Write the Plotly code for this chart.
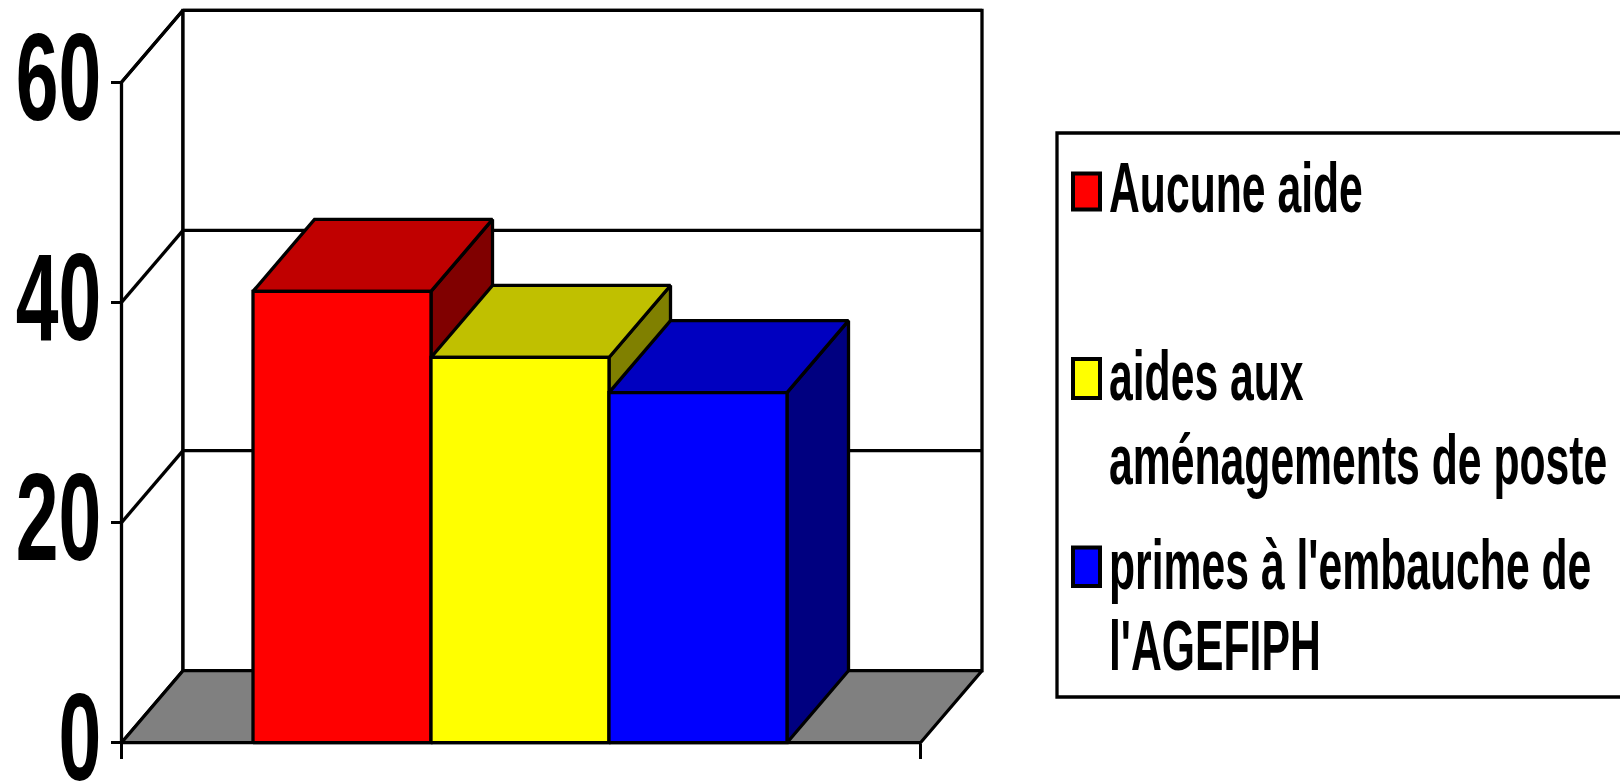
import plotly.graph_objects as go

# --- data ---
categories = ["Aucune aide", "aides aux aménagements de poste", "primes à l'embauche de l'AGEFIPH"]
values = [41, 35, 31.8]
y_ticks = [0, 20, 40, 60]
front_colors = ["#FF0000", "#FFFF00", "#0000FF"]
top_colors = ["#C00000", "#C0C000", "#0000C0"]
side_colors = ["#800000", "#808000", "#000080"]
legend_lines = ["Aucune aide", "aides aux", "aménagements de poste", "primes à l'embauche de", "l'AGEFIPH"]
legend_baselines = [213, 401, 485, 590, 671]
swatch_boxes = [(173.5, 209.5), (359, 398), (547.6, 586)]

# --- layout constants (pixels of the 1620x782 page) ---
W, H = 1620, 782
PX_X0, PX_Y0 = 121.5, 742.7      # front-left corner of the floor
PX_PER_BAR = 178.0
PX_PER_UNIT = 11.007
PX_FRONT_R = 920.5
PX_BAR_L = 253.0
PX_DX, PX_DY = 61.5, 72.0

x_axis_left = -0.5 - (PX_BAR_L - PX_X0) / PX_PER_BAR   # x value of the front-left corner
x_axis_right = x_axis_left + (PX_FRONT_R - PX_X0) / PX_PER_BAR
dx = PX_DX / PX_PER_BAR
dy = PX_DY / PX_PER_UNIT
x_range = [x_axis_left - PX_X0 / PX_PER_BAR, x_axis_left + (W - PX_X0) / PX_PER_BAR]
y_range = [(PX_Y0 - H) / PX_PER_UNIT, PX_Y0 / PX_PER_UNIT]
ymax = max(y_ticks)
LW = 3.3


def poly(xs, ys, fill, name):
    return go.Scatter(x=xs, y=ys, mode="lines", fill="toself", fillcolor=fill,
                      line=dict(color="black", width=LW), name=name,
                      hoverinfo="skip", showlegend=False)


def segs(pairs, name):
    xs, ys = [], []
    for (a, b) in pairs:
        xs += [a[0], b[0], None]
        ys += [a[1], b[1], None]
    return go.Scatter(x=xs, y=ys, mode="lines", line=dict(color="black", width=LW),
                      name=name, hoverinfo="skip", showlegend=False)


fig = go.Figure()
L, R = x_axis_left, x_axis_right
# walls
fig.add_trace(poly([L, L, L + dx, L + dx, L], [0, ymax, ymax + dy, dy, 0], "white", "left wall"))
fig.add_trace(poly([L + dx, R + dx, R + dx, L + dx, L + dx],
                   [dy, dy, ymax + dy, ymax + dy, dy], "white", "back wall"))
# floor
fig.add_trace(poly([L, R, R + dx, L + dx, L], [0, 0, dy, dy, 0], "#808080", "floor"))
# grid
fig.add_trace(segs([((L, t), (L + dx, t + dy)) for t in y_ticks[1:]] +
                   [((L + dx, t + dy), (R + dx, t + dy)) for t in y_ticks[1:]], "grid"))
# bars
for i, v in enumerate(values):
    a, b = i - 0.5, i + 0.5
    fig.add_trace(poly([b, b + dx, b + dx, b, b], [0, dy, v + dy, v, 0], side_colors[i], categories[i] + " side"))
    fig.add_trace(poly([a, b, b + dx, a + dx, a], [v, v, v + dy, v + dy, v], top_colors[i], categories[i] + " top"))
    fig.add_trace(poly([a, b, b, a, a], [0, 0, v, v, 0], front_colors[i], categories[i]))

shapes = [dict(type="rect", xref="paper", yref="paper", x0=1057 / W, x1=1.05,
               y0=1 - 697 / H, y1=1 - 133 / H, line=dict(color="black", width=LW), layer="below")]
for i, (t, b) in enumerate(swatch_boxes):
    shapes.append(dict(type="rect", xref="paper", yref="paper", x0=1073 / W, x1=1100 / W,
                       y0=1 - b / H, y1=1 - t / H, fillcolor=front_colors[i],
                       line=dict(color="black", width=4)))

annotations = [dict(text=txt, xref="paper", yref="paper", x=1107 / W, y=1 - (bl + 16) / H,
                    xanchor="left", yanchor="bottom", showarrow=False,
                    font=dict(family="Liberation Sans", size=70, color="black", weight=700))
               for txt, bl in zip(legend_lines, legend_baselines)]

fig.update_layout(
    width=W, height=H, autosize=False,
    margin=dict(l=0, r=0, t=0, b=0, pad=0, autoexpand=False),
    paper_bgcolor="white", plot_bgcolor="white", showlegend=False,
    shapes=shapes, annotations=annotations,
    xaxis=dict(range=x_range, domain=[0, 1], anchor="free", position=(H - PX_Y0) / H,
               showgrid=False, zeroline=False, showline=False,
               tickmode="array", tickvals=[L, R], ticks="outside", ticklen=15,
               tickwidth=LW, tickcolor="black", showticklabels=False),
    yaxis=dict(range=y_range, domain=[0, 1], anchor="free", position=PX_X0 / W,
               showgrid=False, zeroline=False, showline=False,
               tickmode="array", tickvals=y_ticks, ticks="outside", ticklen=11,
               tickwidth=LW, tickcolor="black", ticklabeloverflow="allow",
               tickfont=dict(family="Liberation Sans", size=124, color="black", weight=700)),
)

# The reference text is condensed: narrow real text horizontally around its anchor.
post = """
document.body.style.margin = '0';
function squeeze(el, right, sx, shiftx, shifty) {
  var b = el.getBBox();
  var ax = right ? b.x + b.width : b.x;
  var t = el.getAttribute('transform') || '';
  el.setAttribute('transform', t + ' translate(' + (ax + shiftx) + ',' + shifty + ') scale(' + sx + ',1) translate(' + (-ax) + ',0)');
}
document.querySelectorAll('.ytick text').forEach(function(e){ squeeze(e, true, 0.62, 15.5, -6); });
document.querySelectorAll('.annotation-text').forEach(function(e){ squeeze(e, false, 0.61, 0, 0); });
"""
fig.write_html("out.html", post_script=post, config=dict(displayModeBar=False))
